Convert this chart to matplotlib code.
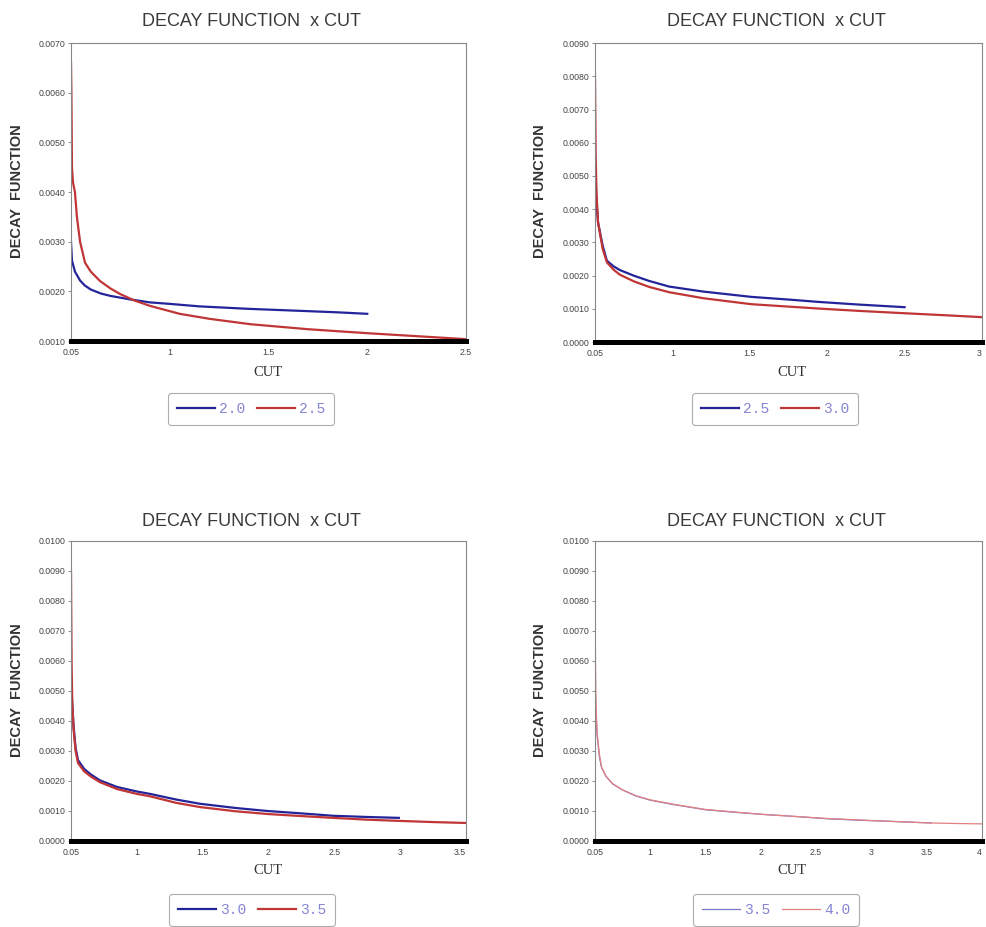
import matplotlib
matplotlib.use("Agg")
import matplotlib.pyplot as plt
from matplotlib.ticker import MultipleLocator, FormatStrFormatter

# ---- data ----
# panel 1 : 2.0 vs 2.5
cut_20 = [0.5, 0.505, 0.52, 0.546, 0.57, 0.60, 0.65, 0.70, 0.80, 0.90, 1.0, 1.15, 1.4, 1.66, 1.85, 2.0]
dec_20 = [0.00300, 0.00262, 0.00240, 0.00222, 0.00212, 0.00204, 0.00196, 0.00191, 0.00184, 0.00178,
          0.00175, 0.00170, 0.00165, 0.00161, 0.00158, 0.00155]
cut_25a = [0.5, 0.502, 0.505, 0.51, 0.52, 0.53, 0.546, 0.571, 0.60, 0.647, 0.70, 0.748, 0.82, 0.90,
           1.05, 1.2, 1.41, 1.7, 2.0, 2.25, 2.5]
dec_25a = [0.0066, 0.0060, 0.0045, 0.0042, 0.0040, 0.0035, 0.0030, 0.00258, 0.00240, 0.00221, 0.00206,
           0.00195, 0.00182, 0.00171, 0.00155, 0.00145, 0.00134, 0.00124, 0.00116, 0.00110, 0.00104]

# panel 2 : 2.5 vs 3.0
cut_25b = [0.5, 0.505, 0.51, 0.52, 0.55, 0.577, 0.62, 0.66, 0.75, 0.85, 0.98, 1.2, 1.51, 1.75, 1.94, 2.2, 2.5]
dec_25b = [0.0055, 0.0048, 0.0042, 0.0036, 0.0029, 0.00245, 0.00228, 0.00217, 0.00200, 0.00184, 0.00167,
           0.00152, 0.00136, 0.00128, 0.00121, 0.00113, 0.00105]
cut_30a = [0.5, 0.502, 0.505, 0.51, 0.52, 0.55, 0.577, 0.62, 0.66, 0.75, 0.85, 0.98, 1.2, 1.51, 1.94,
           2.2, 2.49, 2.75, 3.0]
dec_30a = [0.0081, 0.0070, 0.0055, 0.0045, 0.0036, 0.0028, 0.00240, 0.00218, 0.00203, 0.00183, 0.00166,
           0.00150, 0.00132, 0.00114, 0.00101, 0.00094, 0.00087, 0.00081, 0.00075]

# panel 3 : 3.0 vs 3.5
cut_30b = [0.5, 0.505, 0.51, 0.52, 0.535, 0.553, 0.6, 0.65, 0.72, 0.85, 1.0, 1.1, 1.3, 1.48, 1.75, 1.99,
           2.25, 2.49, 2.75, 2.99]
dec_30b = [0.0056, 0.0050, 0.0045, 0.0038, 0.0031, 0.0027, 0.0024, 0.00222, 0.00202, 0.00180, 0.00165,
           0.00157, 0.00138, 0.00124, 0.00110, 0.00100, 0.00092, 0.00084, 0.00080, 0.00077]
cut_35a = [0.5, 0.502, 0.505, 0.51, 0.52, 0.535, 0.553, 0.6, 0.65, 0.72, 0.85, 1.0, 1.1, 1.3, 1.48, 1.75,
           1.99, 2.25, 2.49, 2.75, 2.99, 3.25, 3.5]
dec_35a = [0.0090, 0.0075, 0.0058, 0.0046, 0.0037, 0.0030, 0.0026, 0.00232, 0.00215, 0.00196, 0.00173,
           0.00157, 0.00149, 0.00127, 0.00113, 0.00099, 0.00090, 0.00083, 0.00077, 0.00071, 0.00067,
           0.00063, 0.00060]

# panel 4 : 3.5 vs 4.0
cut_35b = [0.5, 0.505, 0.51, 0.52, 0.54, 0.56, 0.6, 0.66, 0.75, 0.87, 1.0, 1.2, 1.5, 1.75, 2.0, 2.3, 2.6,
           2.9, 3.2, 3.54]
dec_35b = [0.0056, 0.0048, 0.0042, 0.0035, 0.0028, 0.00244, 0.00215, 0.00190, 0.00170, 0.00150, 0.00136,
           0.00122, 0.00104, 0.00096, 0.00089, 0.00082, 0.00074, 0.00069, 0.00065, 0.00060]
cut_40 = [0.5, 0.502, 0.505, 0.51, 0.52, 0.54, 0.56, 0.6, 0.66, 0.75, 0.87, 1.0, 1.2, 1.5, 1.75, 2.0, 2.3,
          2.6, 2.9, 3.2, 3.54, 3.8, 4.0]
dec_40 = [0.0092, 0.0075, 0.0058, 0.0045, 0.0036, 0.0029, 0.00246, 0.00216, 0.00191, 0.00170, 0.00151,
          0.00137, 0.00123, 0.00105, 0.00097, 0.00089, 0.00082, 0.00075, 0.00070, 0.00065, 0.00060,
          0.00058, 0.00057]

xticks_3 = ["0.05", "1", "1.5", "2", "2.5"]
xticks_4 = ["0.05", "1", "1.5", "2", "2.5", "3"]
xticks_5 = ["0.05", "1", "1.5", "2", "2.5", "3", "3.5"]
xticks_6 = ["0.05", "1", "1.5", "2", "2.5", "3", "3.5", "4"]

fig = plt.figure(figsize=(9.86, 9.27), dpi=100)

# each panel: axes rect, x limit, y limits, series, tick labels, title/label spots (pixels)
panels = [
    dict(rect=[0.072, 0.632, 0.4006, 0.3215], xmax=2.5, ylim=(0.001, 0.007),
         series=[(cut_20, dec_20, "2.0"), (cut_25a, dec_25a, "2.5")], xt=xticks_3,
         tx=251, ty=22, ylx=17, yly=191, clx=268, cly=372, lgx=251, lgy=409, thin=False),
    dict(rect=[0.6034, 0.631, 0.3925, 0.3225], xmax=3.0, ylim=(0.0, 0.009),
         series=[(cut_25b, dec_25b, "2.5"), (cut_30a, dec_30a, "3.0")], xt=xticks_4,
         tx=776, ty=22, ylx=540, yly=191, clx=792, cly=372, lgx=775, lgy=409, thin=False),
    dict(rect=[0.072, 0.0928, 0.4006, 0.3236], xmax=3.5, ylim=(0.0, 0.010),
         series=[(cut_30b, dec_30b, "3.0"), (cut_35a, dec_35a, "3.5")], xt=xticks_5,
         tx=251, ty=521, ylx=17, yly=690, clx=268, cly=871, lgx=252, lgy=910, thin=False),
    dict(rect=[0.6034, 0.0928, 0.3925, 0.3236], xmax=4.0, ylim=(0.0, 0.010),
         series=[(cut_35b, dec_35b, "3.5"), (cut_40, dec_40, "4.0")], xt=xticks_6,
         tx=776, ty=521, ylx=540, yly=690, clx=792, cly=871, lgx=776, lgy=910, thin=True),
]

W, H = 986.0, 927.0
for p in panels:
    ax = fig.add_axes(p["rect"])
    if p["thin"]:
        cols, lw = ["#7a7ac8", "#e58080"], 0.9
    else:
        cols, lw = ["#24249a", "#c03535"], 1.6
    for (x, y, lab), c in zip(p["series"], cols):
        ax.plot(x, y, color=c, lw=lw, label=lab)
    ax.set_xlim(0.5, p["xmax"])
    ax.set_ylim(*p["ylim"])
    ax.set_xticks([0.5 + 0.5 * i for i in range(len(p["xt"]))])
    ax.set_xticklabels(p["xt"])
    ax.yaxis.set_major_locator(MultipleLocator(0.001))
    ax.yaxis.set_major_formatter(FormatStrFormatter("%.4f"))
    ax.tick_params(axis="both", labelsize=6.3, labelcolor="#444444", colors="#777777",
                   length=2.5, width=0.6, pad=1.5)
    ax.tick_params(axis="x", length=0, pad=5)
    for s in ["top", "right", "left"]:
        ax.spines[s].set_color("#888888")
        ax.spines[s].set_linewidth(0.8)
    ax.spines["bottom"].set_color("black")
    ax.spines["bottom"].set_linewidth(3.6)
    for lab in ax.get_xticklabels() + ax.get_yticklabels():
        lab.set_fontfamily("Liberation Sans")
    # last x label sits at the right edge of the figure
    if p["xmax"] > 2.5:
        ax.get_xticklabels()[-1].set_horizontalalignment("right")

    fig.text(p["tx"] / W, 1 - p["ty"] / H, "DECAY FUNCTION  x CUT", ha="center", va="center",
             fontsize=13, color="#3a3a3a", family="Liberation Sans")
    fig.text(p["ylx"] / W, 1 - p["yly"] / H, "DECAY  FUNCTION", rotation=90, ha="center",
             va="center", fontsize=10.5, fontweight="bold", color="#333333", family="Liberation Sans")
    fig.text(p["clx"] / W, 1 - p["cly"] / H, "CUT", ha="center", va="center",
             fontsize=10.5, color="#333333", family="Liberation Serif")

    leg = ax.legend(loc="center", bbox_to_anchor=(p["lgx"] / W, 1 - p["lgy"] / H),
                    bbox_transform=fig.transFigure, ncol=2, frameon=True, fancybox=True,
                    prop={"family": "Liberation Mono", "size": 10.5}, handlelength=2.6,
                    handletextpad=0.3, columnspacing=0.8, borderpad=0.6, borderaxespad=0)
    leg.get_frame().set_edgecolor("#999999")
    leg.get_frame().set_linewidth(0.8)
    for t in leg.get_texts():
        t.set_color("#8585d5")

fig.savefig("out.png", dpi=100)
